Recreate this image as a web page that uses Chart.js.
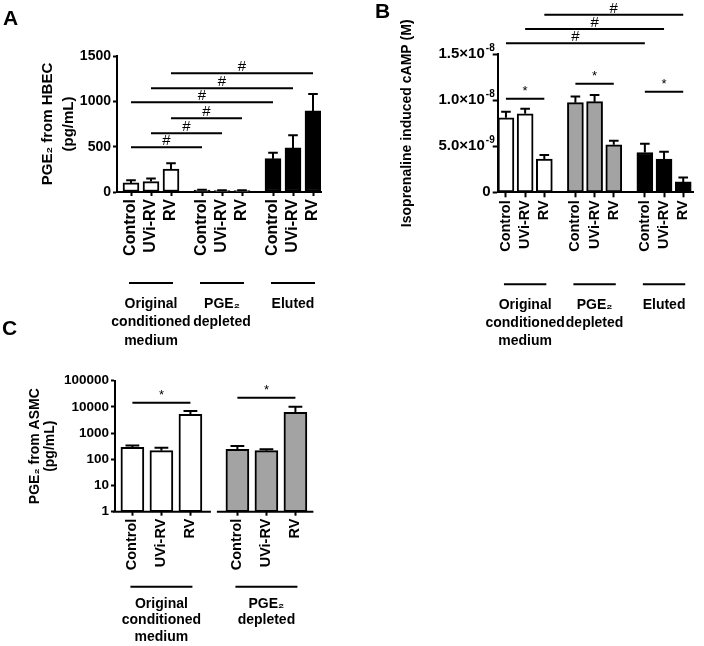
<!DOCTYPE html>
<html>
<head>
<meta charset="utf-8">
<script src="https://cdn.jsdelivr.net/npm/chart.js@4.4.0/dist/chart.umd.min.js"></script>
<style>
  body { margin: 0; background: #fff; width: 704px; height: 646px; position: relative; overflow: hidden; }
  canvas { position: absolute; }
  .panel { position: absolute; font: bold 21px/21px "Liberation Sans", Arial, sans-serif; color: #000; }
</style>
</head>
<body>
<canvas id="chartA" width="352" height="360" style="left:0;top:0"></canvas>
<canvas id="chartB" width="352" height="360" style="left:352px;top:0"></canvas>
<canvas id="chartC" width="352" height="286" style="left:0;top:360px"></canvas>
<div class="panel" style="left:3px;top:7px">A</div>
<div class="panel" style="left:375px;top:0">B</div>
<div class="panel" style="left:2px;top:317px">C</div>

<script>
const FONT = '"Liberation Sans", Arial, sans-serif';

// === datos comunes ===
const CONDITIONS = ['Control', 'UVi-RV', 'RV'];
const GROUPS_AB = [['Original', 'conditioned', 'medium'], ['PGE₂', 'depleted'], ['Eluted']];
const GROUPS_C = [['Original', 'conditioned', 'medium'], ['PGE₂', 'depleted']];
const COLORS = ['#ffffff', '#a3a3a3', '#000000'];

// === panel A: PGE2 from HBEC (pg/mL) ===
const A_MEDIUM = [100, 115, 254];
const A_MEDIUM_SEM = [30, 35, 63];
const A_DEPLETED = [20, 15, 15];
const A_DEPLETED_SEM = [5, 3, 3];
const A_ELUTED = [368, 486, 894];
const A_ELUTED_SEM = [66, 140, 188];
const A_Y_TICKS = [0, 500, 1000, 1500];
// [grupo, barra, grupo, barra, valor, marca]
const A_SIG = [
  [0, 0, 1, 0, 494, '#'],
  [0, 1, 1, 1, 648, '#'],
  [0, 2, 1, 2, 814, '#'],
  [0, 0, 2, 0, 990, '#'],
  [0, 1, 2, 1, 1145, '#'],
  [0, 2, 2, 2, 1310, '#']
];

// === panel B: Isoprenaline induced cAMP (M) ===
const B_MEDIUM = [8.1e-9, 8.53e-9, 3.6e-9];
const B_MEDIUM_SEM = [0.65e-9, 0.55e-9, 0.45e-9];
const B_DEPLETED = [9.74e-9, 9.85e-9, 5.17e-9];
const B_DEPLETED_SEM = [0.66e-9, 0.72e-9, 0.43e-9];
const B_ELUTED = [4.33e-9, 3.6e-9, 1.13e-9];
const B_ELUTED_SEM = [0.95e-9, 0.8e-9, 0.47e-9];
const B_Y_TICKS = [0, 5e-9, 1e-8, 1.5e-8];
const B_Y_LABELS = ['0', '5.0×10', '1.0×10', '1.5×10'];
const B_Y_EXP = ['', '-9', '-8', '-8'];
const B_SIG = [
  [0, 0, 0, 2, 1.017e-8, '*'],
  [1, 0, 1, 2, 1.18e-8, '*'],
  [2, 0, 2, 2, 1.094e-8, '*'],
  [0, 0, 2, 0, 1.62e-8, '#'],
  [0, 1, 2, 1, 1.776e-8, '#'],
  [0, 2, 2, 2, 1.93e-8, '#']
];

// === panel C: PGE2 from ASMC (pg/mL), escala log ===
const C_MEDIUM = [287, 213, 5210];
const C_MEDIUM_SEM = [53, 64, 1760];
const C_DEPLETED = [240, 213, 6220];
const C_DEPLETED_SEM = [81, 27, 3970];
const C_Y_TICKS = [1, 10, 100, 1000, 10000, 100000];
const C_SIG = [
  [0, 0, 0, 2, 14450, '*'],
  [1, 0, 1, 2, 22400, '*']
];

// plugin: barras de error, líneas de significancia, etiquetas de grupo
function makeExtras(p) {
  const pos = (g, i) => g * p.gstep + i;
  return {
    id: 'extras',
    afterDatasetsDraw(chart) {
      const ctx = chart.ctx;
      const xs = chart.scales.x, ys = chart.scales.y, area = chart.chartArea;
      ctx.save();
      ctx.strokeStyle = '#000';
      ctx.fillStyle = '#000';
      ctx.lineWidth = 2;

      // barras de error (solo hacia arriba)
      chart.data.datasets.forEach((ds, di) => {
        chart.getDatasetMeta(di).data.forEach((bar, i) => {
          const top = ys.getPixelForValue(ds.data[i].y + ds.sem[i]);
          const half = bar.width * 0.3;
          ctx.beginPath();
          ctx.moveTo(bar.x, bar.y);
          ctx.lineTo(bar.x, top);
          ctx.moveTo(bar.x - half, top);
          ctx.lineTo(bar.x + half, top);
          ctx.stroke();
        });
      });

      // etiquetas del eje y con exponente (panel B)
      if (p.yExp) {
        ctx.textAlign = 'left';
        ctx.textBaseline = 'middle';
        p.yTicks.forEach((v, i) => {
          const yy = ys.getPixelForValue(v);
          ctx.font = 'bold ' + p.yFont + 'px ' + FONT;
          const w1 = ctx.measureText(p.yLabels[i]).width;
          ctx.font = 'bold 10px ' + FONT;
          const w2 = p.yExp[i] ? ctx.measureText(p.yExp[i]).width + 1 : 0;
          const right = area.left - (p.yExp[i] ? 3 : 7);
          ctx.font = 'bold ' + p.yFont + 'px ' + FONT;
          ctx.fillText(p.yLabels[i], right - w1 - w2, yy);
          if (p.yExp[i]) {
            ctx.font = 'bold 10px ' + FONT;
            ctx.fillText(p.yExp[i], right - w2 + 1, yy - 6);
          }
        });
      }

      // eje x partido (panel C)
      if (p.broken) {
        const mid = (xs.getPixelForValue(pos(0, 2)) + xs.getPixelForValue(pos(1, 0))) / 2;
        ctx.beginPath();
        ctx.moveTo(area.left - 2, area.bottom);
        ctx.lineTo(mid - 3, area.bottom);
        ctx.moveTo(mid + 3, area.bottom);
        ctx.lineTo(area.right, area.bottom);
        ctx.stroke();
      }

      // significancia
      ctx.textAlign = 'center';
      ctx.textBaseline = 'alphabetic';
      p.sig.forEach(([g1, i1, g2, i2, v, mark]) => {
        const x1 = xs.getPixelForValue(pos(g1, i1));
        const x2 = xs.getPixelForValue(pos(g2, i2));
        const yy = ys.getPixelForValue(v);
        ctx.beginPath();
        ctx.moveTo(x1, yy);
        ctx.lineTo(x2, yy);
        ctx.stroke();
        ctx.font = (mark === '*' ? '13px ' : '15px ') + FONT;
        ctx.fillText(mark, (x1 + x2) / 2, yy - (mark === '*' ? 4 : 2));
      });

      // etiquetas de grupo bajo el eje
      ctx.font = 'bold 14px ' + FONT;
      ctx.textBaseline = 'middle';
      p.groups.forEach((lines, g) => {
        const x1 = xs.getPixelForValue(pos(g, 0)) - 2;
        const x2 = xs.getPixelForValue(pos(g, 2)) + 2;
        const ly = area.bottom + p.groupLine;
        ctx.beginPath();
        ctx.moveTo(x1, ly);
        ctx.lineTo(x2, ly);
        ctx.stroke();
        lines.forEach((t, k) => {
          ctx.fillText(t, (x1 + x2) / 2, ly + p.groupText + k * p.groupPitch);
        });
      });
      ctx.restore();
    }
  };
}

function dibujarPanel(id, p) {
  const pos = (g, i) => g * p.gstep + i;
  const datasets = p.values.map((vals, g) => ({
    data: vals.map((v, i) => ({ x: pos(g, i), y: v })),
    sem: p.sems[g],
    backgroundColor: COLORS[g],
    borderColor: '#000',
    borderWidth: 2,
    borderSkipped: false,
    barThickness: p.barWidth,
    grouped: false
  }));
  const xTicks = [];
  p.values.forEach((vals, g) => vals.forEach((v, i) => xTicks.push(pos(g, i))));

  const axisGrid = { drawOnChartArea: false, offset: false, tickLength: p.tickLen, tickWidth: 2, tickColor: '#000' };

  return new Chart(document.getElementById(id), {
    type: 'bar',
    data: { datasets },
    options: {
      responsive: false,
      animation: false,
      devicePixelRatio: 1,
      layout: { padding: p.padding },
      plugins: { legend: { display: false }, tooltip: { enabled: false } },
      scales: {
        x: {
          type: 'linear',
          min: p.xMin,
          max: p.xMax,
          offset: false,
          grid: axisGrid,
          border: { display: !p.broken, color: '#000', width: 2 },
          afterBuildTicks: s => { s.ticks = xTicks.map(v => ({ value: v })); },
          afterFit: s => { s.height = p.xHeight; },
          ticks: {
            autoSkip: false, minRotation: 90, maxRotation: 90, padding: 3, color: '#000',
            font: { family: FONT, weight: 'bold', size: p.xFont },
            callback: (v, i) => CONDITIONS[i % 3]
          }
        },
        y: {
          type: p.yType,
          min: p.yMin,
          max: p.yMax,
          grid: axisGrid,
          border: { color: '#000', width: 2 },
          afterBuildTicks: s => { s.ticks = p.yTicks.map(v => ({ value: v })); },
          afterFit: s => { s.width = p.yWidth; },
          ticks: {
            padding: 2, color: '#000',
            font: { family: FONT, weight: 'bold', size: p.yFont },
            callback: (v, i) => p.yExp ? '' : String(v)
          },
          title: {
            display: true, text: p.title, color: '#000',
            font: { family: FONT, weight: 'bold', size: p.titleFont, lineHeight: p.titleLH },
            padding: { top: p.titlePad, bottom: 0 }
          }
        }
      }
    },
    plugins: [makeExtras(p)]
  });
}

dibujarPanel('chartA', {
  values: [A_MEDIUM, A_DEPLETED, A_ELUTED],
  sems: [A_MEDIUM_SEM, A_DEPLETED_SEM, A_ELUTED_SEM],
  sig: A_SIG, groups: GROUPS_AB,
  gstep: 3.55, xMin: -0.7, xMax: 9.5, barWidth: 16,
  padding: { left: 0, top: 56, right: 31, bottom: 0 },
  yWidth: 117, xHeight: 168, tickLen: 4,
  yType: 'linear', yMin: 0, yMax: 1500, yTicks: A_Y_TICKS,
  xFont: 16, yFont: 14,
  title: ['PGE₂ from HBEC', '(pg/mL)'], titleFont: 15, titleLH: 1.4, titlePad: 37.5,
  groupLine: 91, groupText: 21, groupPitch: 18.5
});

dibujarPanel('chartB', {
  values: [B_MEDIUM, B_DEPLETED, B_ELUTED],
  sems: [B_MEDIUM_SEM, B_DEPLETED_SEM, B_ELUTED_SEM],
  sig: B_SIG, groups: GROUPS_AB,
  gstep: 3.62, xMin: -0.43, xMax: 9.8, barWidth: 16,
  padding: { left: 0, top: 54.3, right: 6.8, bottom: 0 },
  yWidth: 145.7, xHeight: 167.7, tickLen: 5,
  yType: 'linear', yMin: 0, yMax: 1.5e-8, yTicks: B_Y_TICKS, yLabels: B_Y_LABELS, yExp: B_Y_EXP,
  xFont: 14.5, yFont: 15,
  title: 'Isoprenaline induced cAMP (M)', titleFont: 14, titleLH: 1.2, titlePad: 46.6,
  groupLine: 92, groupText: 21, groupPitch: 18
});

dibujarPanel('chartC', {
  values: [C_MEDIUM, C_DEPLETED],
  sems: [C_MEDIUM_SEM, C_DEPLETED_SEM],
  sig: C_SIG, groups: GROUPS_C, broken: true,
  gstep: 3.62, xMin: -0.6, xMax: 6.24, barWidth: 23,
  padding: { left: 0, top: 20.7, right: 38.6, bottom: 0 },
  yWidth: 115, xHeight: 134.3, tickLen: 4,
  yType: 'logarithmic', yMin: 1, yMax: 100000, yTicks: C_Y_TICKS,
  xFont: 14.5, yFont: 13.5,
  title: ['PGE₂ from ASMC', '(pg/mL)'], titleFont: 14, titleLH: 1.1, titlePad: 27.3,
  groupLine: 75, groupText: 17, groupPitch: 16.5
});
</script>
</body>
</html>
